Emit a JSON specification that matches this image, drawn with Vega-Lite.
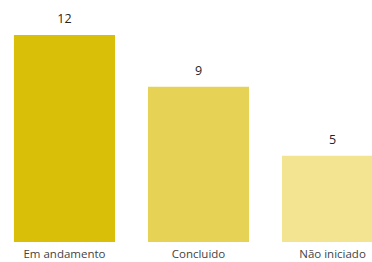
{
  "$schema": "https://vega.github.io/schema/vega-lite/v6.json",
  "autosize": "none",
  "padding": {"left": 0, "top": 35, "right": 0, "bottom": 20},
  "width": 397,
  "height": 207,
  "background": "white",
  "data": {"values": [
    {"status": "Em andamento", "count": 12, "color": "#D9BF07"},
    {"status": "Concluido", "count": 9, "color": "#E6D255"},
    {"status": "Não iniciado", "count": 5, "color": "#F2E491"}
  ]},
  "encoding": {
    "x": {"field": "status", "type": "nominal", "sort": null,
      "scale": {"paddingInner": 0.246, "paddingOuter": 0.104},
      "axis": {"title": null, "domain": false, "ticks": false, "labelAngle": 0, "labelPadding": 6, "labelFont": "Open Sans", "labelFontSize": 11.5, "labelColor": "#444444"}},
    "y": {"field": "count", "type": "quantitative", "scale": {"domain": [0, 12], "nice": false}, "axis": null}
  },
  "layer": [
    {"mark": {"type": "bar"}, "encoding": {"color": {"field": "color", "type": "nominal", "scale": null}}},
    {"mark": {"type": "text", "baseline": "bottom", "dy": -9, "font": "Open Sans", "fontSize": 12.5, "color": "#252423"}, "encoding": {"text": {"field": "count", "type": "quantitative"}}}
  ],
  "config": {"view": {"stroke": null}}
}
